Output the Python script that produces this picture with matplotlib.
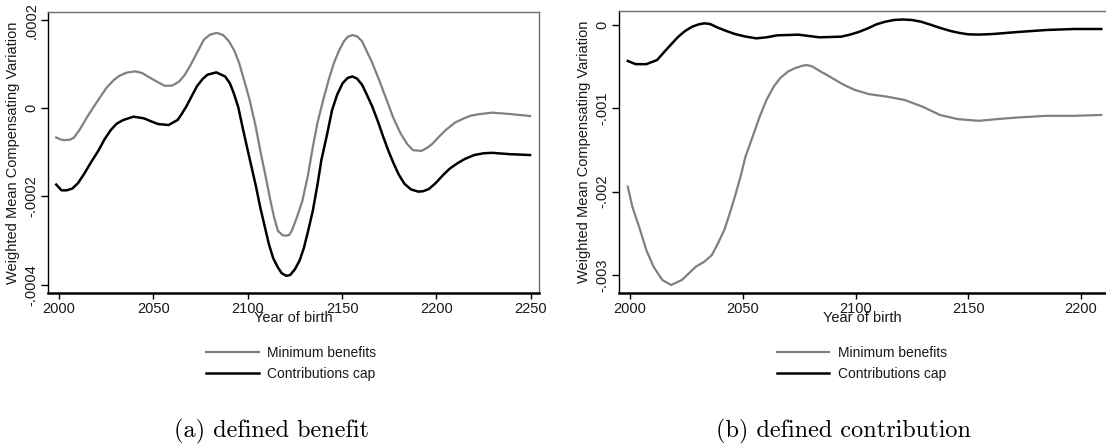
import matplotlib
matplotlib.use("Agg")
import matplotlib.pyplot as plt

plt.rcParams["font.family"] = ["Liberation Sans", "DejaVu Sans"]

# (a) defined benefit
a_min_year = [1998.5, 2001, 2003, 2006, 2008, 2011, 2015, 2020, 2025, 2029, 2032, 2036, 2040.4,
              2044, 2047, 2052, 2056, 2060, 2063.7, 2066.5, 2069.3, 2073, 2076.8, 2080,
              2083.6, 2087, 2090, 2093, 2095.4, 2098, 2101, 2104, 2106.6, 2109.5, 2112,
              2114, 2116, 2118.5, 2120.5, 2122, 2123.3, 2126, 2129, 2132, 2134.5, 2137,
              2140, 2143, 2145.7, 2148.5, 2151, 2153, 2155.5, 2158, 2160.6, 2163, 2166,
              2170, 2173.6, 2177, 2181, 2184.5, 2187.6, 2192, 2195, 2198, 2201, 2205,
              2210, 2214.6, 2218, 2222, 2229.5, 2238.8, 2249.6]
a_min_val = [-0.0000662, -0.000071, -0.0000722, -0.000071, -0.000066, -0.000048, -0.000019,
             0.000014, 0.0000456, 0.000064, 0.0000738, 0.000081, 0.0000837, 0.00008,
             0.0000722, 0.00006, 0.000051, 0.0000515, 0.0000608, 0.000075, 0.000095,
             0.000125, 0.000156, 0.000167, 0.000171, 0.000166, 0.000152, 0.00013, 0.000103,
             0.000065, 0.000019, -0.000037, -0.000095, -0.000155, -0.000209, -0.000248,
             -0.000278, -0.000288, -0.000289, -0.000287, -0.000278, -0.000248, -0.000209,
             -0.00015, -0.0000875, -0.000032, 0.000019, 0.000066, 0.000103, 0.000132,
             0.000152, 0.000162, 0.000166, 0.000163, 0.000152, 0.00013, 0.000103, 0.00006,
             0.000019, -0.00002, -0.000057, -0.000081, -0.000095, -0.0000966, -0.00009,
             -0.00008, -0.000066, -0.000049, -0.000032, -0.0000228, -0.000017, -0.0000137,
             -0.0000099, -0.0000129, -0.0000175]
a_cap_year = [1998.5, 2001.3, 2004, 2007, 2010, 2013.4, 2017, 2021, 2024, 2027.4, 2030.5,
              2034, 2039.5, 2045, 2049, 2052.5, 2058, 2062.8, 2065, 2067.4, 2070, 2073,
              2076, 2078.6, 2083.3, 2088, 2090.5, 2092.6, 2095, 2097.2, 2099.5, 2102,
              2104.5, 2106.6, 2109, 2111.2, 2113.5, 2116, 2118, 2120.5, 2122.5, 2125,
              2127.5, 2129.8, 2132, 2134.5, 2137, 2139, 2142, 2144.7, 2147.5, 2150.3,
              2153, 2155.5, 2158, 2160.6, 2163, 2166, 2169, 2171.8, 2174.5, 2177.3, 2180,
              2183, 2186.5, 2190.4, 2193, 2196, 2199.5, 2203.4, 2207, 2211, 2215, 2220,
              2225, 2229.5, 2238.8, 2249.6]
a_cap_val = [-0.000173, -0.000186, -0.000186, -0.000182, -0.00017, -0.000148, -0.000122,
             -0.000095, -0.000071, -0.0000494, -0.000035, -0.0000266, -0.000019, -0.0000228,
             -0.00003, -0.0000357, -0.000038, -0.0000266, -0.000013, 0.0000038, 0.000025,
             0.0000494, 0.000066, 0.000076, 0.0000814, 0.0000722, 0.000057, 0.0000342,
             0.000002, -0.0000418, -0.000086, -0.000133, -0.00018, -0.000224, -0.000268,
             -0.000308, -0.00034, -0.000361, -0.000374, -0.00038, -0.000378, -0.000365,
             -0.000345, -0.000316, -0.000278, -0.000232, -0.000172, -0.000118, -0.00006,
             -0.0000038, 0.000032, 0.000057, 0.000069, 0.0000722, 0.000067, 0.0000532,
             0.000032, 0.0000038, -0.00003, -0.0000646, -0.000096, -0.000125, -0.00015,
             -0.000171, -0.000184, -0.000189, -0.000188, -0.000183, -0.00017, -0.000152,
             -0.000137, -0.000125, -0.000115, -0.000106, -0.000102, -0.000101, -0.000104,
             -0.000106]

# (b) defined contribution
b_min_year = [1999, 2001, 2004, 2007.2, 2010.4, 2014.3, 2018.2, 2023, 2029.2, 2033, 2036.3,
              2039, 2041.8, 2044, 2046.5, 2049, 2051.2, 2054.5, 2057.5, 2060.5, 2063.7,
              2066.5, 2070, 2073, 2076.3, 2078.5, 2081, 2084, 2087.3, 2090.5, 2093.6,
              2096.5, 2099.8, 2106, 2114, 2121.8, 2129.7, 2137.5, 2145.4, 2154.8, 2162.6,
              2172, 2184.6, 2197, 2209]
b_min_val = [-0.00194, -0.00218, -0.00242, -0.0027, -0.0029, -0.00306, -0.00312, -0.00306,
             -0.0029, -0.00284, -0.00276, -0.00262, -0.00246, -0.00228, -0.00206, -0.00182,
             -0.00158, -0.00133, -0.0011, -0.0009, -0.00074, -0.00064, -0.00056, -0.00052,
             -0.00049, -0.00048, -0.0005, -0.00055, -0.0006, -0.00065, -0.0007, -0.00074,
             -0.00078, -0.00083, -0.00086, -0.0009, -0.00098, -0.00108, -0.00113, -0.00115,
             -0.00113, -0.00111, -0.00109, -0.00109, -0.00108]
b_cap_year = [1999, 2002.5, 2007.2, 2012, 2016.6, 2021.4, 2024.5, 2027.6, 2030.5, 2033,
              2035.5, 2038.6, 2042.5, 2046.5, 2051, 2056, 2060.5, 2065.3, 2074.7, 2084,
              2093.6, 2097.5, 2101.4, 2105.5, 2109.3, 2113, 2117, 2121, 2125, 2129, 2132.8,
              2137.5, 2142.2, 2146, 2150, 2155, 2161, 2172, 2184.6, 2197, 2209]
b_cap_val = [-0.000432, -0.00047, -0.00047, -0.00042, -0.00028, -0.00014, -0.00007, -0.00002,
             0.000008, 0.00002, 0.000012, -0.000028, -0.00007, -0.000108, -0.000138, -0.00016,
             -0.000148, -0.000124, -0.000116, -0.000148, -0.00014, -0.000116, -0.000084,
             -0.00004, 0.000008, 0.000038, 0.00006, 0.000066, 0.00006, 0.00004, 0.000008,
             -0.000035, -0.000072, -0.000095, -0.000112, -0.000115, -0.000108, -0.000084,
             -0.00006, -0.000048, -0.000048]

a_xticks = [2000, 2050, 2100, 2150, 2200, 2250]
a_yticks = [0.0002, 0, -0.0002, -0.0004]
a_ylabels = [".0002", "0", "-.0002", "-.0004"]
b_xticks = [2000, 2050, 2100, 2150, 2200]
b_yticks = [0, -0.001, -0.002, -0.003]
b_ylabels = ["0", "-.001", "-.002", "-.003"]

series_names = ["Minimum benefits", "Contributions cap"]
captions = ["(a) defined benefit", "(b) defined contribution"]

W, H = 1106, 444
fig = plt.figure(figsize=(W / 100, H / 100), dpi=100)


def box(x0, y0, x1, y1):
    return [x0 / W, 1 - y1 / H, (x1 - x0) / W, (y1 - y0) / H]


ax_a = fig.add_axes(box(48.3, 11.7, 538.7, 293.3))
ax_b = fig.add_axes(box(619, 11, 1106, 293.3))

panels = [
    (ax_a, a_min_year, a_min_val, a_cap_year, a_cap_val, a_xticks, a_yticks, a_ylabels,
     (1994.3, 2254.2), (-0.0004195, 0.000219)),
    (ax_b, b_min_year, b_min_val, b_cap_year, b_cap_val, b_xticks, b_yticks, b_ylabels,
     (1995.1, 2211.1), (-0.00322, 0.000168)),
]

txt = "#1a1a1a"
for ax, my, mv, cy, cv, xt, yt, yl, xlim, ylim in panels:
    ax.plot(my, mv, color="#808080", lw=1.6, label=series_names[0], solid_joinstyle="round")
    ax.plot(cy, cv, color="black", lw=1.8, label=series_names[1], solid_joinstyle="round")
    ax.set_xlim(*xlim)
    ax.set_ylim(*ylim)
    ax.set_xticks(xt, [str(v) for v in xt])
    ax.set_yticks(yt, yl, rotation=90, va="center")
    ax.tick_params(axis="x", length=4, width=1, pad=2, labelsize=10.5, colors=txt)
    ax.tick_params(axis="y", length=5, width=1, pad=2, labelsize=10.5, colors=txt)
    ax.tick_params(colors="black", which="both", labelcolor=txt)
    ax.set_xlabel("Year of birth", fontsize=10.5, color=txt, labelpad=-3)
    ax.set_ylabel("Weighted Mean Compensating Variation", fontsize=10.5, color=txt, labelpad=3)
    for s in ("top", "right"):
        ax.spines[s].set_color("#6e6e6e")
        ax.spines[s].set_linewidth(1.0)
    ax.spines["left"].set_color("black")
    ax.spines["left"].set_linewidth(1.0)
    ax.spines["bottom"].set_color("black")
    ax.spines["bottom"].set_linewidth(1.8)

ax_b.spines["right"].set_visible(False)

for ax, lx in [(ax_a, 206), (ax_b, 776.5)]:
    ax.legend(loc="upper left", bbox_to_anchor=(lx / W, 1 - 346 / H),
              bbox_transform=fig.transFigure, frameon=False, fontsize=10,
              handlelength=3.8, handletextpad=0.6, labelspacing=0.5,
              borderpad=0, borderaxespad=0, labelcolor=txt)

fig.text(272 / W, 1 - 431 / H, captions[0], family="cmr10", fontsize=17.5,
         ha="center", va="center", color="black")
fig.text(844 / W, 1 - 431 / H, captions[1], family="cmr10", fontsize=17.5,
         ha="center", va="center", color="black")

fig.savefig("out.png", dpi=100, facecolor="white")
